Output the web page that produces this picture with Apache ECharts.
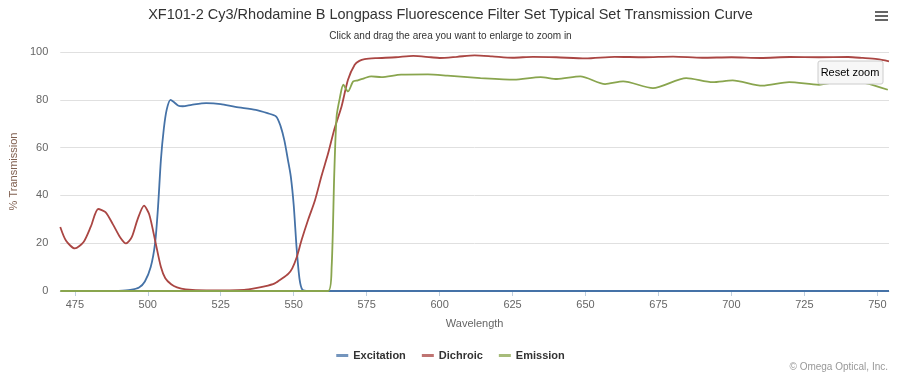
<!DOCTYPE html>
<html>
<head>
<meta charset="utf-8">
<script src="https://cdn.jsdelivr.net/npm/echarts@6/dist/echarts.min.js"></script>
<style>
  html, body { margin: 0; padding: 0; background: #fff; }
  #chart { width: 901px; height: 375px; }
</style>
</head>
<body>
<div id="chart"></div>
<script>
// tick labels on the wavelength axis
const xTicks = [475, 500, 525, 550, 575, 600, 625, 650, 675, 700, 725, 750];

// Excitation
const excWl = [490, 494, 497, 499, 501, 502.5, 503.5, 504.5, 505.5, 506.5, 507.8, 509, 510.5, 512, 515, 520, 525, 530, 537, 541, 544, 545.5, 546.8, 548, 549, 550, 551, 552, 553, 555, 560, 600, 650, 700, 754];
const excT = [0, 0.5, 1.5, 4, 10, 20, 35, 55, 68, 76, 80, 79, 77.5, 77.3, 77.9, 78.6, 78.2, 77, 75.8, 74.4, 73, 69, 63, 55, 48, 36, 18, 5, 0.5, 0, 0, 0, 0, 0, 0];

// Dichroic
const dicWl = [470, 472, 475, 478, 480.5, 483, 485.5, 488, 490.5, 492.5, 494.5, 496.5, 498.7, 500.5, 502.7, 504.5, 506, 508, 510, 513, 520, 528, 533, 537, 540, 543.5, 546, 548.2, 549.5, 551, 552.7, 555, 557.3, 559.5, 561.8, 564, 566.4, 568.6, 570.9, 572.5, 574.3, 578, 585, 591, 597, 600, 606, 612, 618, 625, 632, 640, 650, 660, 670, 680, 690, 700, 710, 720, 730, 740, 745, 750, 754];
const dicT = [26.8, 21, 17.8, 20.5, 27, 34.3, 33, 28, 22.5, 19.9, 22.5, 30, 35.7, 32, 20, 10, 5.3, 2.8, 1.5, 0.7, 0.3, 0.3, 0.5, 1.2, 1.9, 3.2, 5.2, 7.3, 9.5, 14, 21.3, 30, 38, 48, 57.6, 68, 77.2, 88.4, 94.7, 96.3, 97, 97.4, 97.8, 98.4, 97.8, 97.5, 98, 98.6, 98.2, 97.6, 98, 97.8, 97.3, 98, 97.8, 98.1, 97.6, 97.8, 97.5, 97.9, 97.8, 97.9, 97.5, 97, 96.1];

// Emission
const emWl = [470, 500, 540, 561.8, 563, 563.9, 564.7, 565.8, 567, 568.6, 570.4, 572, 574.3, 576.6, 580, 586.8, 596, 602.7, 614, 625.5, 634.6, 640.2, 648.2, 656.7, 662.9, 673.1, 684.5, 693.6, 700.4, 710.6, 719.8, 730, 738, 745.9, 753.6];
const emT = [0, 0, 0, 0, 10, 49, 73, 80.7, 86.3, 83.5, 87.7, 88.1, 89.1, 89.8, 89.5, 90.5, 90.6, 90.1, 89.1, 88.4, 89.5, 88.7, 89.8, 86.6, 87.7, 84.9, 89.1, 87.4, 88.1, 85.9, 87.4, 86.3, 87.8, 87, 84.2];

function pairs(xs, ys) {
    return xs.map(function (x, i) { return [x, ys[i]]; });
}

const font = '"Liberation Sans", Arial, sans-serif';

const chart = echarts.init(document.getElementById('chart'));

const option = {
    animation: false,
    textStyle: { fontFamily: font },
    title: {
        text: 'XF101-2 Cy3/Rhodamine B Longpass Fluorescence Filter Set Typical Set Transmission Curve',
        subtext: 'Click and drag the area you want to enlarge to zoom in',
        left: 'center',
        top: 2,
        itemGap: 9,
        textStyle: { color: '#333', fontSize: 14.5, fontWeight: 'normal', fontFamily: font },
        subtextStyle: { color: '#333', fontSize: 10, fontFamily: font }
    },
    legend: {
        bottom: 9,
        left: 'center',
        icon: 'rect',
        itemWidth: 12,
        itemHeight: 3,
        itemGap: 16,
        itemStyle: { opacity: 0.75 },
        textStyle: { color: '#333', fontSize: 11, fontWeight: 'bold', fontFamily: font },
        data: ['Excitation', 'Dichroic', 'Emission']
    },
    grid: { left: 57, right: 12, top: 52, bottom: 84 },
    xAxis: {
        type: 'value',
        min: 470,
        max: 754,
        name: 'Wavelength',
        nameLocation: 'middle',
        nameGap: 27,
        nameTextStyle: { color: '#666', fontSize: 11 },
        axisLine: { lineStyle: { color: '#C0D0E0' } },
        axisTick: { show: true, length: 5, lineStyle: { color: '#C0D0E0' }, customValues: xTicks },
        axisLabel: { color: '#666', fontSize: 11, margin: 8, customValues: xTicks },
        splitLine: { show: false }
    },
    yAxis: {
        type: 'value',
        min: 0,
        max: 100,
        interval: 20,
        name: '% Transmission',
        nameLocation: 'middle',
        nameGap: 36,
        nameTextStyle: { color: '#806050', fontSize: 11 },
        axisLine: { show: false },
        axisTick: { show: false },
        axisLabel: { color: '#666', fontSize: 11, margin: 12 },
        splitLine: { lineStyle: { color: '#e0e0e0' } }
    },
    series: [
        {
            name: 'Excitation',
            type: 'line',
            data: pairs(excWl, excT),
            showSymbol: false,
            smooth: 0.25,
            color: '#4572A7',
            lineStyle: { width: 1.8 }
        },
        {
            name: 'Dichroic',
            type: 'line',
            data: pairs(dicWl, dicT),
            showSymbol: false,
            smooth: 0.25,
            color: '#AA4643',
            lineStyle: { width: 1.8 }
        },
        {
            name: 'Emission',
            type: 'line',
            data: pairs(emWl, emT),
            showSymbol: false,
            smooth: 0.25,
            color: '#89A54E',
            lineStyle: { width: 1.8 }
        }
    ],
    graphic: [
        // menu icon
        { type: 'line', shape: { x1: 875, y1: 12, x2: 888, y2: 12 }, style: { stroke: '#666', lineWidth: 2 } },
        { type: 'line', shape: { x1: 875, y1: 16, x2: 888, y2: 16 }, style: { stroke: '#666', lineWidth: 2 } },
        { type: 'line', shape: { x1: 875, y1: 20, x2: 888, y2: 20 }, style: { stroke: '#666', lineWidth: 2 } },
        // reset zoom button
        {
            type: 'rect',
            shape: { x: 818, y: 61, width: 65, height: 23, r: 2 },
            style: { fill: '#f7f7f7', stroke: '#cccccc', lineWidth: 1 },
            z: 100
        },
        {
            type: 'text',
            x: 850, y: 72.5,
            style: { text: 'Reset zoom', fill: '#000', font: '11px ' + font, align: 'center', verticalAlign: 'middle' },
            z: 101
        },
        // credits
        {
            type: 'text',
            right: 13, bottom: 3,
            style: { text: '\u00A9 Omega Optical, Inc.', fill: '#999', font: '10px ' + font }
        }
    ]
};

chart.setOption(option);

window.addEventListener('resize', function () {
    chart.resize();
});
</script>
</body>
</html>
